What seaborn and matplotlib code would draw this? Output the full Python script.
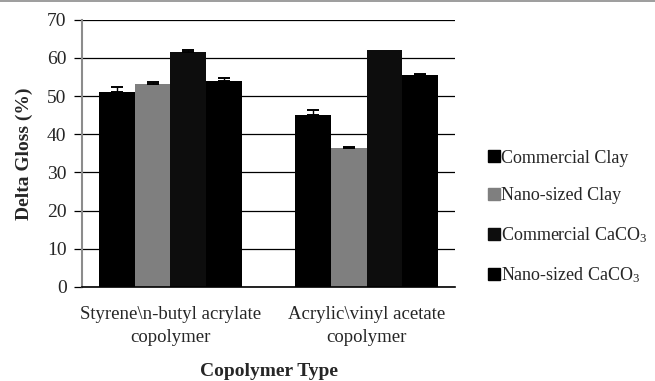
import numpy as np
import pandas as pd
import seaborn as sns
import matplotlib.pyplot as plt
from matplotlib.lines import Line2D

# copolymer groups and filler series
copolymers = ["Styrene\\n-butyl acrylate\ncopolymer", "Acrylic\\vinyl acetate\ncopolymer"]
fillers = ["Commercial Clay", "Nano-sized Clay",
           "Commercial CaCO$_\\mathregular{3}$", "Nano-sized CaCO$_\\mathregular{3}$"]
commercial_clay = [51.2, 45.1]
nano_clay = [53.3, 36.4]
commercial_caco3 = [61.5, 62.0]
nano_caco3 = [54.0, 55.6]
# upper error bars
err_commercial_clay = [1.3, 1.2]
err_nano_clay = [0.4, 0.3]
err_commercial_caco3 = [0.6, 0.0]
err_nano_caco3 = [0.7, 0.3]

colors = ["#000000", "#7f7f7f", "#0d0d0d", "#000000"]

rows = []
for f, vals, errs in zip(fillers,
                         [commercial_clay, nano_clay, commercial_caco3, nano_caco3],
                         [err_commercial_clay, err_nano_clay, err_commercial_caco3, err_nano_caco3]):
    for c, v, e in zip(copolymers, vals, errs):
        rows.append({"Copolymer": c, "Filler": f, "Gloss": v, "Err": e})
df = pd.DataFrame(rows)

sns.set_style("white")
plt.rcParams["font.family"] = ["Liberation Serif", "DejaVu Serif"]
plt.rcParams["mathtext.fontset"] = "stix"

fig = plt.figure(figsize=(6.55, 3.81), dpi=100)
ax = fig.add_axes([0.125, 0.247, 0.57, 0.701])

sns.barplot(data=df, x="Copolymer", y="Gloss", hue="Filler", order=copolymers,
            hue_order=fillers, palette=colors, width=0.73, saturation=1,
            errorbar=None, legend=False, linewidth=0, edgecolor="none", ax=ax)

# error bars on top of each bar (upper side only)
for i, f in enumerate(fillers):
    cont = ax.containers[i]
    sub = df[df["Filler"] == f].set_index("Copolymer").loc[copolymers]
    for bar, v, e in zip(cont, sub["Gloss"], sub["Err"]):
        if e <= 0:
            continue
        xc = bar.get_x() + bar.get_width() / 2
        ax.errorbar(xc, v, yerr=[[0], [e]], fmt="none", ecolor="black",
                    elinewidth=1, capsize=4, capthick=1.4, zorder=4)

ax.set_ylim(0, 70)
ax.set_yticks(range(0, 71, 10))
ax.yaxis.grid(True, color="black", linewidth=0.9)
ax.set_axisbelow(True)
for s in ["top", "right"]:
    ax.spines[s].set_visible(False)
ax.spines["left"].set_color("#8c8c8c")
ax.spines["left"].set_linewidth(1.5)
ax.spines["bottom"].set_color("black")
ax.spines["bottom"].set_linewidth(1.2)
ax.tick_params(axis="y", length=6, width=0.9, color="black", labelsize=14, pad=5, left=True)
ax.tick_params(axis="x", length=0, labelsize=13.5, pad=14)
for lab in ax.get_xticklabels():
    lab.set_linespacing(1.45)

ax.set_ylabel("Delta Gloss (%)", fontsize=14, fontweight="bold", labelpad=10)
ax.set_xlabel("Copolymer Type", fontsize=14, fontweight="bold", labelpad=12)

handles = [Line2D([], [], marker="s", linestyle="none", markersize=8,
                  markerfacecolor=c, markeredgecolor=c) for c in colors]
fig.legend(handles, fillers, loc="center left", bbox_to_anchor=(0.72, 0.43),
           frameon=False, fontsize=13, handletextpad=0.05, labelspacing=1.15,
           handlelength=0.7)

# thin rule at the very top of the picture
fig.add_artist(Line2D([0, 1], [0.997, 0.997], color="#8c8c8c", linewidth=1.2,
                      transform=fig.transFigure))

fig.savefig("out.png", dpi=100)
